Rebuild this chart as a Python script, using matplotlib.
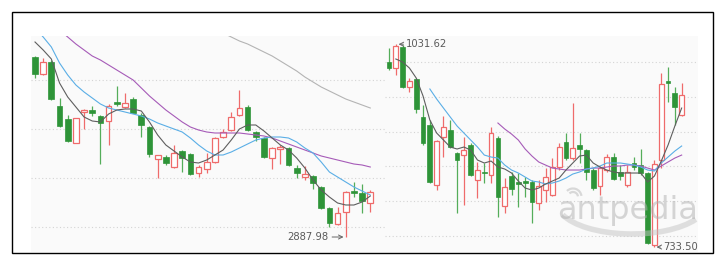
import numpy as np
import matplotlib.pyplot as plt
from matplotlib.patches import Rectangle, Arc

nan = np.nan

# ---- left panel: daily candles (index points) ----
left_open = [3248, 3214, 3238, 3150, 3124, 3076, 3138, 3142, 3130, 3120, 3158, 3148, 3164, 3132,
             3108, 3044, 3048, 3028, 3060, 3054, 3016, 3024, 3038, 3088, 3102, 3132, 3148, 3098,
             3086, 3046, 3064, 3066, 3026, 3008, 3010, 2988, 2946, 2914, 2938, 2980, 2976, 2956]
left_close = [3214, 3238, 3164, 3110, 3080, 3126, 3142, 3136, 3116, 3150, 3154, 3156, 3136, 3112,
              3054, 3052, 3036, 3056, 3046, 3014, 3028, 3038, 3086, 3098, 3128, 3146, 3102, 3088,
              3048, 3066, 3068, 3032, 3016, 3014, 2996, 2946, 2916, 2936, 2978, 2976, 2960, 2978]
left_high = [3250, 3246, 3242, 3166, 3132, 3126, 3144, 3150, 3132, 3154, 3190, 3176, 3168, 3136,
             3110, 3052, 3052, 3072, 3062, 3056, 3032, 3056, 3088, 3104, 3138, 3182, 3152, 3100,
             3088, 3068, 3072, 3068, 3032, 3030, 3012, 2990, 2948, 2948, 2980, 2998, 2994, 2982]
left_low = [3206, 3212, 3162, 3108, 3078, 3076, 3104, 3130, 3034, 3072, 3150, 3146, 3136, 3088,
            3048, 3006, 3032, 3026, 3018, 3012, 3008, 3016, 3036, 3086, 3100, 3130, 3100, 3080,
            3046, 3024, 3034, 3030, 3006, 3002, 2984, 2944, 2908, 2912, 2887.98, 2968, 2936, 2938]

left_ma5 = [3278, 3262, 3244, 3196, 3168, 3148, 3128, 3120, 3118, 3134, 3142, 3144, 3144, 3140,
            3118, 3092, 3072, 3060, 3048, 3038, 3036, 3042, 3052, 3062, 3082, 3104, 3112, 3112,
            3100, 3086, 3072, 3062, 3046, 3026, 3002, 2982, 2968, 2956, 2952, 2952, 2958, 2970]
left_ma10 = [3306, 3288, 3268, 3236, 3212, 3192, 3178, 3166, 3154, 3146, 3142, 3138, 3134, 3130,
             3124, 3116, 3110, 3104, 3098, 3086, 3072, 3060, 3052, 3052, 3058, 3066, 3074, 3082,
             3086, 3088, 3088, 3086, 3078, 3066, 3056, 3038, 3018, 3008, 2998, 2988, 2980, 2972]
left_ma20 = [nan, nan, nan, 3302, 3288, 3274, 3262, 3250, 3242, 3232, 3222, 3212, 3202, 3186,
             3170, 3156, 3142, 3130, 3118, 3108, 3102, 3098, 3096, 3096, 3096, 3096, 3094, 3092,
             3090, 3086, 3080, 3074, 3068, 3062, 3056, 3050, 3046, 3042, 3038, 3034, 3032, 3028]
left_ma60 = [nan] * 23 + [3296, 3288, 3280, 3274, 3266, 3258, 3250, 3240, 3230, 3220, 3208, 3198,
                          3188, 3180, 3172, 3164, 3158, 3152, 3146]

# ---- right panel ----
right_open = [1005.5, 996.6, 1027.5, 968.7, 980.5, 924.6, 912.8, 824.6, 895.2, 905.5, 871.7, 868.7,
              883.4, 832, 843.8, 839.3, 893.7, 793.8, 837.9, 829.1, 830.5, 829.1, 798.2, 817.3,
              809.9, 851.1, 887.9, 864.3, 883.4, 876.1, 846.7, 823.2, 846.7, 865.8, 843.8, 824.6,
              857, 854, 842.3, 736.4, 861.4, 977.5, 959.9, 927.5]
right_close = [996.6, 1029, 968.7, 977.5, 936.4, 886.4, 829.1, 889.3, 909.9, 880.5, 861.4, 876.1,
               839.3, 846.7, 842.3, 901.1, 807, 821.7, 818.8, 826.1, 827.6, 799.7, 823.2, 836.4,
               851.1, 880.5, 864.3, 879, 877.6, 843.8, 820.2, 849.6, 865.8, 833.5, 837.9, 843.8,
               851.1, 842.3, 739.4, 855.5, 973.1, 974.6, 939.3, 956.9]
right_high = [1026, 1031.62, 1030, 981.9, 981.9, 942.2, 920.2, 890.8, 926.1, 920.2, 873.2, 895.2,
              886.4, 858.5, 857, 909.9, 896.7, 834.9, 843.8, 842.3, 836.4, 832, 832, 849.6,
              864.3, 886.4, 901.1, 945.2, 901.1, 877.6, 849.6, 852.6, 870.2, 871.7, 854, 854,
              865.8, 877.6, 843.8, 861.4, 989.3, 998, 968.7, 974.6]
right_low = [993.7, 986.3, 967.2, 961.4, 930.5, 883.4, 827.6, 817.3, 865.8, 879, 783.5, 795.2,
             837.9, 805.5, 827.6, 827.6, 777.6, 783.5, 809.9, 792.3, 807, 768.8, 787.9, 799.7,
             808.5, 846.7, 861.4, 861.4, 857, 832, 817.3, 809.9, 843.8, 832, 832, 821.7,
             846.7, 839.3, 738, 733.5, 849.6, 946.7, 912.8, 926.1]

right_ma5 = [nan, 1009.9, 1005.5, 996.6, 981.9, 955.5, 920.2, 901.1, 890.8, 880.5, 877.6, 880.5,
             876.1, 861.4, 857, 859.9, 851.1, 848.2, 842.3, 830.5, 820.2, 817.3, 820.2, 826.1,
             830.5, 834.9, 846.7, 857, 867.3, 868.7, 857, 851.1, 846.7, 843.8, 842.3, 842.3,
             842.3, 842.3, 829.1, 837.9, 859.9, 883.4, 911.4, 937.8]
right_ma10 = [nan] * 6 + [965.8, 951.1, 937.8, 924.6, 911.4, 901.1, 890.8, 880.5, 868.7, 865.8,
                          864.3, 854, 846.7, 842.3, 836.4, 830.5, 829.1, 826.1, 827.6, 830.5,
                          834.9, 840.8, 843.8, 848.2, 849.6, 852.6, 857, 857, 857, 855.5, 854,
                          851.1, 846.7, 845.2, 857, 865.8, 874.6, 882]
right_ma20 = [nan] * 16 + [915.8, 907, 899.6, 890.8, 877.6, 867.3, 858.5, 854, 849.6, 848.2,
                           846.7, 846.7, 846.7, 848.2, 849.6, 849.6, 851.1, 852.6, 852.6, 854,
                           854, 852.6, 849.6, 846.7, 852.6, 858.5, 864.3, 868.7]

RED = "#ef6b6b"
GREEN = "#2e9438"
GREEN_WICK = "#54ad5a"


def draw_candles(ax, o, c, h, l, width):
    o, c, h, l = (np.asarray(v, dtype=float) for v in (o, c, h, l))
    x = np.arange(len(o))
    up = c >= o
    top = np.maximum(o, c)
    bot = np.minimum(o, c)
    ax.vlines(x[up], l[up], h[up], color=RED, lw=0.9, zorder=2)
    ax.vlines(x[~up], l[~up], h[~up], color=GREEN_WICK, lw=0.9, zorder=2)
    ax.bar(x[~up], top[~up] - bot[~up], width, bottom=bot[~up],
           color=GREEN, edgecolor=GREEN, lw=0.5, zorder=3)
    ax.bar(x[up], top[up] - bot[up], width, bottom=bot[up],
           facecolor="white", edgecolor=RED, lw=0.9, zorder=3)


def draw_ma(ax, values, color, lw=0.8):
    v = np.asarray(values, dtype=float)
    ax.plot(np.arange(len(v)), v, color=color, lw=lw, zorder=4)


def style(ax, grid):
    ax.set_facecolor("#fafafa")
    for s in ax.spines.values():
        s.set_visible(False)
    ax.set_xticks([])
    ax.set_yticks(grid)
    ax.tick_params(length=0, labelleft=False)
    ax.yaxis.grid(True, linestyle=(0, (1.0, 2.2)), color="#d4d4d4", lw=0.8)
    ax.set_axisbelow(True)


fig = plt.figure(figsize=(7.27, 2.65), dpi=100)
W, H = 727, 265

# left chart
ax1 = fig.add_axes([31 / W, (H - 252) / H, (385 - 31) / W, (252 - 36) / H])
style(ax1, [2908, 3006, 3104, 3202])
draw_candles(ax1, left_open, left_close, left_high, left_low, 0.7)
draw_ma(ax1, left_ma60, "#b4b4b4")
draw_ma(ax1, left_ma20, "#a65bb8")
draw_ma(ax1, left_ma10, "#5aaee6")
draw_ma(ax1, left_ma5, "#5e5e5e")
ax1.set_xlim(-0.49, 42.8)
ax1.set_ylim(2858, 3290)
lo_i = int(np.argmin(left_low))
ax1.annotate("2887.98", xy=(lo_i - 0.1, left_low[lo_i]), xytext=(-17, 0),
             textcoords="offset pixels", ha="right", va="center", fontsize=7.2,
             color="#5a5a5a", annotation_clip=False,
             arrowprops=dict(arrowstyle="->", color="#666666", lw=0.7,
                             shrinkA=1, shrinkB=1))

# right chart
ax2 = fig.add_axes([385 / W, (H - 252) / H, (698 - 385) / W, (252 - 36) / H])
style(ax2, [750, 801, 852, 903, 954, 1005])
draw_candles(ax2, right_open, right_close, right_high, right_low, 0.7)
draw_ma(ax2, right_ma20, "#a65bb8")
draw_ma(ax2, right_ma10, "#5aaee6")
draw_ma(ax2, right_ma5, "#5e5e5e")
ax2.set_xlim(-0.59, 45.4)
ax2.set_ylim(726.2, 1043.7)
hi_i = int(np.argmax(right_high))
ax2.annotate("1031.62", xy=(hi_i + 0.2, right_high[hi_i]), xytext=(9, 0),
             textcoords="offset pixels", ha="left", va="center", fontsize=7.2,
             color="#5a5a5a", annotation_clip=False,
             arrowprops=dict(arrowstyle="->", color="#666666", lw=0.7,
                             shrinkA=0, shrinkB=1))
lo_j = int(np.argmin(right_low))
ax2.annotate("733.50", xy=(lo_j + 0.1, right_low[lo_j]), xytext=(8, 0),
             textcoords="offset pixels", ha="left", va="center", fontsize=7.2,
             color="#5a5a5a", annotation_clip=False,
             arrowprops=dict(arrowstyle="->", color="#666666", lw=0.7,
                             shrinkA=0, shrinkB=1))

# watermark
fig.text(628 / W, 1 - 211 / H, "antpedia", ha="center", va="center", fontsize=23,
         color="#b0b0b0", alpha=0.5,
         family=["Liberation Sans Narrow", "DejaVu Sans"], zorder=10)
fig.add_artist(Arc((632 / W, 1 - 203 / H), 150 / W, 62 / H, theta1=205, theta2=325,
                   transform=fig.transFigure, color="#c4c4c4", lw=4, alpha=0.5))
for r in (10, 17):
    fig.add_artist(Arc((573 / W, 1 - 197 / H), r / W, r / H, theta1=20, theta2=110,
                       transform=fig.transFigure, color="#bdbdbd", lw=1.6, alpha=0.55))

# frame
fig.add_artist(Rectangle((12 / W, 1 - 253 / H), (713 - 12) / W, (253 - 12) / H, fill=False,
                         ec="black", lw=1.0, transform=fig.transFigure))

fig.savefig("out.png", dpi=100)
